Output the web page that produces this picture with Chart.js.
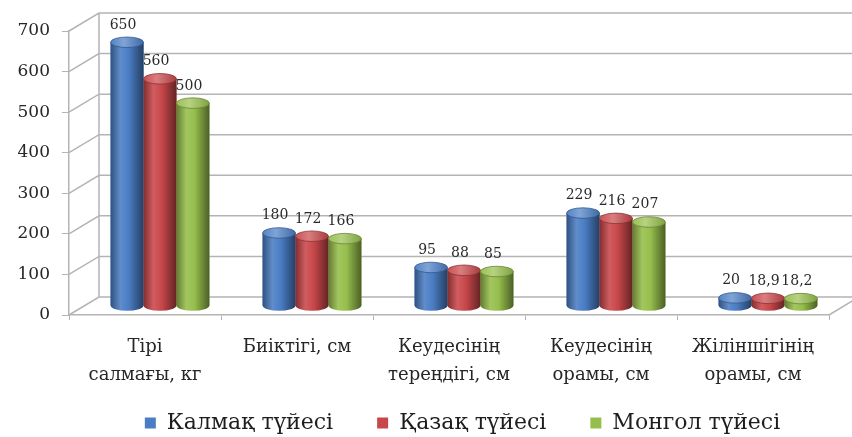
<!DOCTYPE html>
<html>
<head>
<meta charset="utf-8">
<script src="https://cdn.jsdelivr.net/npm/chart.js@4"></script>
<style>
  html, body { margin: 0; padding: 0; background: #fff; }
</style>
</head>
<body>
<canvas id="camelChart" width="852" height="437"></canvas>
<script>
// Data
const categories = [
    ['Тірі', 'салмағы, кг'],
    'Биіктігі, см',
    ['Кеудесінің', 'тереңдігі, см'],
    ['Кеудесінің', 'орамы, см'],
    ['Жіліншігінің', 'орамы, см']
];
const seriesNames = ['Калмақ түйесі', 'Қазақ түйесі', 'Монгол түйесі'];
const kalmak = [650, 180, 95, 229, 20];
const kazakh = [560, 172, 88, 216, 18.9];
const mongol = [500, 166, 85, 207, 18.2];
const yTicks = [0, 100, 200, 300, 400, 500, 600, 700];

const colors = ['#4A7DC4', '#C8474A', '#96BE4C'];
const DEPTH_X = 30, DEPTH_Y = 18;   // 3d wall offset
const GRID = '#b4b4b4';
const LEGEND_SHIFT_X = 48, LEGEND_SHIFT_Y = -30;

function shade(hex, f) {
    const n = parseInt(hex.slice(1), 16);
    let c = [(n >> 16) & 255, (n >> 8) & 255, n & 255];
    c = c.map(v => Math.round(f < 0 ? v * (1 + f) : v + (255 - v) * f));
    return `rgb(${c[0]},${c[1]},${c[2]})`;
}

// perspective walls + grid
const wallPlugin = {
    id: 'walls',
    afterLayout(chart) {
        // legend sits centred under the plot, not the canvas
        const lg = chart.legend;
        lg.left += LEGEND_SHIFT_X;
        lg.right += LEGEND_SHIFT_X;
        lg.top += LEGEND_SHIFT_Y;
        lg.bottom += LEGEND_SHIFT_Y;
    },
    beforeDatasetsDraw(chart) {
        const { ctx, chartArea: a, scales: { y } } = chart;
        ctx.save();
        ctx.strokeStyle = GRID;
        ctx.lineWidth = 1.5;
        ctx.beginPath();
        yTicks.forEach(v => {
            const py = y.getPixelForValue(v);
            ctx.moveTo(a.left, py);
            ctx.lineTo(a.left + DEPTH_X, py - DEPTH_Y);
            ctx.lineTo(a.right + DEPTH_X, py - DEPTH_Y);
        });
        ctx.moveTo(a.left + DEPTH_X, a.top - DEPTH_Y);
        ctx.lineTo(a.left + DEPTH_X, a.bottom - DEPTH_Y);
        ctx.moveTo(a.right, a.bottom);
        ctx.lineTo(a.right + DEPTH_X, a.bottom - DEPTH_Y);
        ctx.stroke();
        ctx.restore();
        // bars sit at mid depth
        ctx.save();
        ctx.translate(DEPTH_X / 2, -DEPTH_Y / 2);
    },
    afterDatasetsDraw(chart) {
        const ctx = chart.ctx;
        chart.data.datasets.forEach((ds, di) => {
            const meta = chart.getDatasetMeta(di);
            const base = colors[di];
            meta.data.forEach((el, i) => {
                const { x, y, base: b, width: w } = el.getProps(['x', 'y', 'base', 'width'], true);
                const l = x - w / 2, r = x + w / 2, ry = w * 0.16;
                const g = ctx.createLinearGradient(l, 0, r, 0);
                g.addColorStop(0, shade(base, -0.35));
                g.addColorStop(0.3, shade(base, 0.12));
                g.addColorStop(0.55, base);
                g.addColorStop(1, shade(base, -0.5));
                ctx.fillStyle = g;
                ctx.beginPath();
                ctx.moveTo(l, y);
                ctx.lineTo(l, b);
                ctx.ellipse(x, b, w / 2, ry, 0, Math.PI, 0, true);
                ctx.lineTo(r, y);
                ctx.closePath();
                ctx.fill();
                // top cap
                const gt = ctx.createLinearGradient(l, 0, r, 0);
                gt.addColorStop(0, shade(base, 0.05));
                gt.addColorStop(0.4, shade(base, 0.3));
                gt.addColorStop(1, shade(base, -0.15));
                ctx.fillStyle = gt;
                ctx.beginPath();
                ctx.ellipse(x, y, w / 2, ry, 0, 0, Math.PI * 2);
                ctx.fill();
                ctx.strokeStyle = shade(base, -0.3);
                ctx.lineWidth = 0.8;
                ctx.stroke();
                // value label
                ctx.fillStyle = '#2a2a2a';
                ctx.font = '14px "DejaVu Serif"';
                ctx.textAlign = 'center';
                ctx.textBaseline = 'middle';
                ctx.fillText(String(ds.data[i]).replace('.', ','), x - 4, y - ry - 12);
            });
        });
        ctx.restore();
    }
};

new Chart(document.getElementById('camelChart'), {
    type: 'bar',
    data: {
        labels: categories,
        datasets: [
            { label: seriesNames[0], data: kalmak, backgroundColor: colors[0] },
            { label: seriesNames[1], data: kazakh, backgroundColor: colors[1] },
            { label: seriesNames[2], data: mongol, backgroundColor: colors[2] }
        ].map(d => Object.assign(d, { clip: false, borderWidth: 0, categoryPercentage: 0.65, barPercentage: 1 }))
    },
    options: {
        responsive: false,
        animation: false,
        devicePixelRatio: 1,
        layout: { padding: { left: 0, right: 23, top: 31, bottom: -37 } },
        plugins: {
            legend: {
                position: 'bottom',
                labels: {
                    font: { family: 'DejaVu Serif', size: 22 },
                    color: '#1e1e1e',
                    boxWidth: 11,
                    boxHeight: 11,
                    padding: 44
                }
            },
            tooltip: { enabled: false }
        },
        scales: {
            x: {
                grid: { drawOnChartArea: false, tickLength: 5, color: GRID, offset: true },
                border: { color: GRID, width: 1.5 },
                ticks: {
                    font: { family: 'DejaVu Serif', size: 18, lineHeight: 1.55 },
                    color: '#262626',
                    padding: 13,
                    maxRotation: 0,
                    autoSkip: false
                },
                afterFit: s => { s.height = 83; }
            },
            y: {
                min: 0,
                max: 700,
                ticks: {
                    stepSize: 100,
                    font: { family: 'DejaVu Serif', size: 17 },
                    color: '#262626',
                    padding: 12
                },
                grid: { drawOnChartArea: false, tickLength: 7, color: GRID },
                border: { color: GRID, width: 1.5 },
                afterFit: s => { s.width = 69; }
            }
        }
    },
    plugins: [wallPlugin]
});
</script>
</body>
</html>
